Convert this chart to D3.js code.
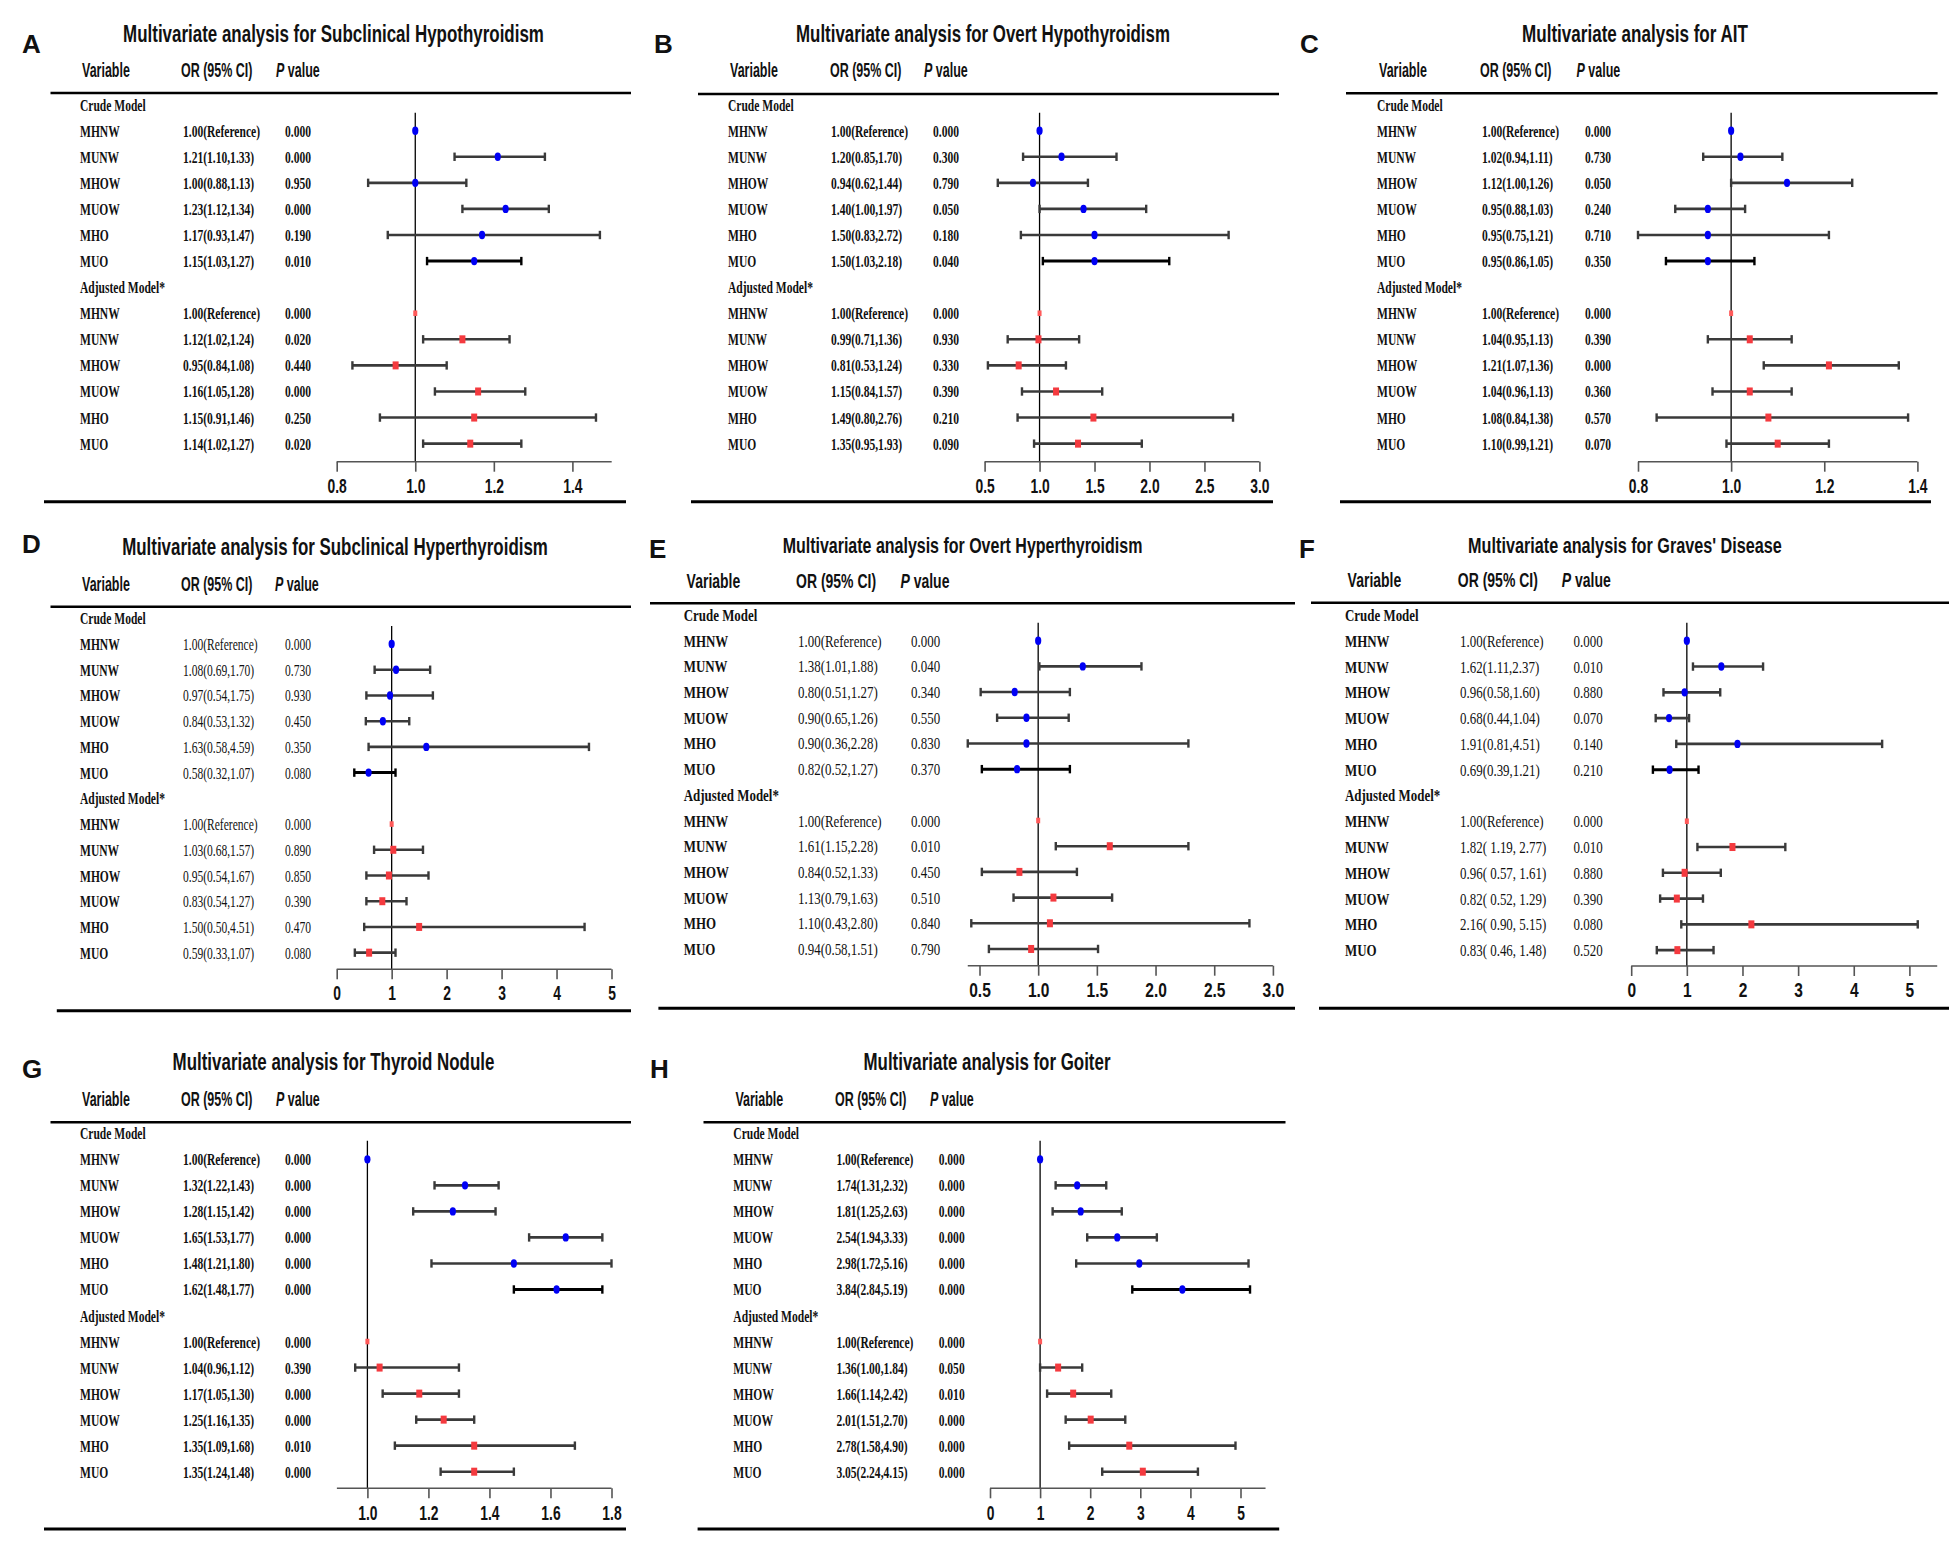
<!DOCTYPE html>
<html>
<head>
<meta charset="utf-8">
<script src="https://cdn.jsdelivr.net/npm/d3@7"></script>
<style>
  body { margin: 0; background: #fff; }
  .sans { font-family: "Liberation Sans", Arial, sans-serif; font-weight: bold; }
  .serif { font-family: "Liberation Serif", "Times New Roman", serif; }
</style>
</head>
<body>
<div id="fig"></div>
<script>
// Forest plots, 8 panels (A-H)
const width = 1949;
const height = 1545;

const vars = ["MHNW", "MUNW", "MHOW", "MUOW", "MHO", "MUO"];

// A - Subclinical Hypothyroidism
const orA_c = [1.00, 1.21, 1.00, 1.23, 1.17, 1.15], loA_c = [1, 1.10, 0.88, 1.12, 0.93, 1.03], hiA_c = [1, 1.33, 1.13, 1.34, 1.47, 1.27], pA_c = [0, 0, 0.95, 0, 0.19, 0.01];
const orA_a = [1.00, 1.12, 0.95, 1.16, 1.15, 1.14], loA_a = [1, 1.02, 0.84, 1.05, 0.91, 1.02], hiA_a = [1, 1.24, 1.08, 1.28, 1.46, 1.27], pA_a = [0, 0.02, 0.44, 0, 0.25, 0.02];
// B - Overt Hypothyroidism
const orB_c = [1.00, 1.20, 0.94, 1.40, 1.50, 1.50], loB_c = [1, 0.85, 0.62, 1.00, 0.83, 1.03], hiB_c = [1, 1.70, 1.44, 1.97, 2.72, 2.18], pB_c = [0, 0.30, 0.79, 0.05, 0.18, 0.04];
const orB_a = [1.00, 0.99, 0.81, 1.15, 1.49, 1.35], loB_a = [1, 0.71, 0.53, 0.84, 0.80, 0.95], hiB_a = [1, 1.36, 1.24, 1.57, 2.76, 1.93], pB_a = [0, 0.93, 0.33, 0.39, 0.21, 0.09];
// C - AIT
const orC_c = [1.00, 1.02, 1.12, 0.95, 0.95, 0.95], loC_c = [1, 0.94, 1.00, 0.88, 0.75, 0.86], hiC_c = [1, 1.11, 1.26, 1.03, 1.21, 1.05], pC_c = [0, 0.73, 0.05, 0.24, 0.71, 0.35];
const orC_a = [1.00, 1.04, 1.21, 1.04, 1.08, 1.10], loC_a = [1, 0.95, 1.07, 0.96, 0.84, 0.99], hiC_a = [1, 1.13, 1.36, 1.13, 1.38, 1.21], pC_a = [0, 0.39, 0, 0.36, 0.57, 0.07];
// D - Subclinical Hyperthyroidism
const orD_c = [1.00, 1.08, 0.97, 0.84, 1.63, 0.58], loD_c = [1, 0.69, 0.54, 0.53, 0.58, 0.32], hiD_c = [1, 1.70, 1.75, 1.32, 4.59, 1.07], pD_c = [0, 0.73, 0.93, 0.45, 0.35, 0.08];
const orD_a = [1.00, 1.03, 0.95, 0.83, 1.50, 0.59], loD_a = [1, 0.68, 0.54, 0.54, 0.50, 0.33], hiD_a = [1, 1.57, 1.67, 1.27, 4.51, 1.07], pD_a = [0, 0.89, 0.85, 0.39, 0.47, 0.08];
// E - Overt Hyperthyroidism
const orE_c = [1.00, 1.38, 0.80, 0.90, 0.90, 0.82], loE_c = [1, 1.01, 0.51, 0.65, 0.36, 0.52], hiE_c = [1, 1.88, 1.27, 1.26, 2.28, 1.27], pE_c = [0, 0.04, 0.34, 0.55, 0.83, 0.37];
const orE_a = [1.00, 1.61, 0.84, 1.13, 1.10, 0.94], loE_a = [1, 1.15, 0.52, 0.79, 0.43, 0.58], hiE_a = [1, 2.28, 1.33, 1.63, 2.80, 1.51], pE_a = [0, 0.01, 0.45, 0.51, 0.84, 0.79];
// F - Graves' Disease
const orF_c = [1.00, 1.62, 0.96, 0.68, 1.91, 0.69], loF_c = [1, 1.11, 0.58, 0.44, 0.81, 0.39], hiF_c = [1, 2.37, 1.60, 1.04, 4.51, 1.21], pF_c = [0, 0.01, 0.88, 0.07, 0.14, 0.21];
const orF_a = [1.00, 1.82, 0.96, 0.82, 2.16, 0.83], loF_a = [1, 1.19, 0.57, 0.52, 0.90, 0.46], hiF_a = [1, 2.77, 1.61, 1.29, 5.15, 1.48], pF_a = [0, 0.01, 0.88, 0.39, 0.08, 0.52];
// G - Thyroid Nodule
const orG_c = [1.00, 1.32, 1.28, 1.65, 1.48, 1.62], loG_c = [1, 1.22, 1.15, 1.53, 1.21, 1.48], hiG_c = [1, 1.43, 1.42, 1.77, 1.80, 1.77], pG_c = [0, 0, 0, 0, 0, 0];
const orG_a = [1.00, 1.04, 1.17, 1.25, 1.35, 1.35], loG_a = [1, 0.96, 1.05, 1.16, 1.09, 1.24], hiG_a = [1, 1.12, 1.30, 1.35, 1.68, 1.48], pG_a = [0, 0.39, 0, 0, 0.01, 0];
const hiPlotG_a = [1, 1.30, 1.30, 1.35, 1.68, 1.48]; // bar drawn in the figure for MUNW ends at 1.30
// H - Goiter
const orH_c = [1.00, 1.74, 1.81, 2.54, 2.98, 3.84], loH_c = [1, 1.31, 1.25, 1.94, 1.72, 2.84], hiH_c = [1, 2.32, 2.63, 3.33, 5.16, 5.19], pH_c = [0, 0, 0, 0, 0, 0];
const orH_a = [1.00, 1.36, 1.66, 2.01, 2.78, 3.05], loH_a = [1, 1.00, 1.14, 1.51, 1.58, 2.24], hiH_a = [1, 1.84, 2.42, 2.70, 4.90, 4.15], pH_a = [0, 0.05, 0.01, 0, 0, 0];

const ticksA = [0.8, 1.0, 1.2, 1.4], ticksB = [0.5, 1.0, 1.5, 2.0, 2.5, 3.0], ticksD = [0, 1, 2, 3, 4, 5], ticksG = [1.0, 1.2, 1.4, 1.6, 1.8];

// layout for each panel
const panels = [
  {id: "A", title: "Multivariate analysis for Subclinical Hypothyroidism", L: [22, 53], T: [333.5, 42, 421, 24],
   hy: 77, hx: [82, 181, 276], cx: [80, 183, 285], top: [50.5, 631, 93], bot: [44, 626, 501.7], y0: 104.6, step: 26.08, k: 0.66, bold: true,
   ticks: ticksA, tf: ".1f", px: [336.7, 572.4], line: [0.8, 1.5], refTop: 112.7, axisY: 461.7, labY: 493,
   c: [orA_c, loA_c, hiA_c, pA_c], a: [orA_a, loA_a, hiA_a, pA_a]},
  {id: "B", title: "Multivariate analysis for Overt Hypothyroidism", L: [654, 53], T: [983, 42, 374, 24],
   hy: 77, hx: [730, 830, 924], cx: [728, 831, 933], top: [698, 1279, 94], bot: [691, 1273, 501.7], y0: 104.6, step: 26.08, k: 0.66, bold: true,
   ticks: ticksB, tf: ".1f", px: [984.6, 1259.4], line: [0.5, 3.0], refTop: 112.7, axisY: 461.7, labY: 493,
   c: [orB_c, loB_c, hiB_c, pB_c], a: [orB_a, loB_a, hiB_a, pB_a]},
  {id: "C", title: "Multivariate analysis for AIT", L: [1300, 53], T: [1635, 42, 226, 24],
   hy: 77, hx: [1379, 1480, 1576.5], cx: [1377, 1482, 1585], top: [1346, 1937.6, 93.3], bot: [1340, 1931, 501.7], y0: 104.6, step: 26.08, k: 0.66, bold: true,
   ticks: ticksA, tf: ".1f", px: [1638, 1917.4], line: [0.8, 1.4], refTop: 112.7, axisY: 461.7, labY: 493,
   c: [orC_c, loC_c, hiC_c, pC_c], a: [orC_a, loC_a, hiC_a, pC_a]},
  {id: "D", title: "Multivariate analysis for Subclinical Hyperthyroidism", L: [22, 553], T: [335, 555, 426, 24],
   hy: 590.7, hx: [82, 181, 275], cx: [80, 183, 285], top: [50.5, 631, 606.7], bot: [56.8, 631, 1010.7], y0: 618.3, step: 25.72, k: 0.66, bold: false,
   ticks: ticksD, tf: "d", px: [336.7, 611.5], line: [0, 5], refTop: 626, axisY: 969.3, labY: 1000,
   c: [orD_c, loD_c, hiD_c, pD_c], a: [orD_a, loD_a, hiD_a, pD_a]},
  {id: "E", title: "Multivariate analysis for Overt Hyperthyroidism", L: [649, 558], T: [962.5, 553, 360, 22],
   hy: 588.3, hx: [686.6, 796, 900.4], cx: [683.7, 798, 911], top: [650, 1295, 603.3], bot: [658.4, 1295, 1008.3], y0: 615, step: 25.69, k: 0.74, bold: false,
   ticks: ticksB, tf: ".1f", px: [979.5, 1272.9], line: [0.4, 3.0], refTop: 622.7, axisY: 965.7, labY: 997.3,
   c: [orE_c, loE_c, hiE_c, pE_c], a: [orE_a, loE_a, hiE_a, pE_a]},
  {id: "F", title: "Multivariate analysis for Graves' Disease", L: [1299, 558], T: [1625, 553, 314, 22],
   hy: 586.7, hx: [1347.6, 1457.8, 1561.8], cx: [1345, 1460, 1573.6], top: [1311, 1949, 602.7], bot: [1319, 1949, 1008.3], y0: 615, step: 25.78, k: 0.74, bold: false, spaced: true,
   ticks: ticksD, tf: "d", px: [1631.2, 1909.4], line: [0, 5.5], refTop: 622.7, axisY: 966, labY: 997,
   c: [orF_c, loF_c, hiF_c, pF_c], a: [orF_a, loF_a, hiF_a, pF_a]},
  {id: "G", title: "Multivariate analysis for Thyroid Nodule", L: [22, 1078], T: [333.5, 1070, 322, 24],
   hy: 1106, hx: [82, 181, 276], cx: [80, 183, 285], top: [50.5, 631, 1122.3], bot: [44, 626, 1529], y0: 1133.3, step: 26.03, k: 0.66, bold: true,
   ticks: ticksG, tf: ".1f", px: [367.4, 611.5], line: [0.9, 1.8], refTop: 1140.7, axisY: 1488.3, labY: 1520,
   c: [orG_c, loG_c, hiG_c, pG_c], a: [orG_a, loG_a, hiG_a, pG_a], aPlot: hiPlotG_a},
  {id: "H", title: "Multivariate analysis for Goiter", L: [650, 1078], T: [987, 1070, 247, 24],
   hy: 1106, hx: [735.4, 835, 930], cx: [733.3, 836.4, 938.7], top: [703.5, 1285.5, 1122.3], bot: [697.6, 1279.2, 1529], y0: 1133.3, step: 26.03, k: 0.66, bold: true,
   ticks: ticksD, tf: "d", px: [990, 1240.5], line: [0, 5.5], refTop: 1140.7, axisY: 1488.3, labY: 1520,
   c: [orH_c, loH_c, hiH_c, pH_c], a: [orH_a, loH_a, hiH_a, pH_a]}
];

const blue = "#0000f5", red = "#f43a3f", barCol = "#3a3a3a";
const f2 = d3.format(".2f"), f3 = d3.format(".3f");
const rowSize = 17.5;

const svg = d3.select("#fig").append("svg")
  .attr("width", width).attr("height", height)
  .style("background", "#fff");

// text squeezed horizontally like the original figure
function txt(g, x, y, str, cls, k, size, anchor) {
  return g.append("text").attr("class", cls)
    .attr("transform", `translate(${x},${y}) scale(${k},1)`)
    .attr("text-anchor", anchor || "start")
    .style("font-size", size + "px")
    .attr("fill", "#111")
    .text(str);
}

function ciText(or, lo, hi, i, spaced) {
  if (i === 0) return "1.00(Reference)";
  return spaced ? `${f2(or)}( ${f2(lo)}, ${f2(hi)})` : `${f2(or)}(${f2(lo)},${f2(hi)})`;
}

panels.forEach(P => {
  const g = svg.append("g");
  const x = d3.scaleLinear().domain([P.ticks[0], P.ticks[P.ticks.length - 1]]).range(P.px);
  const rowY = i => P.y0 + i * P.step;
  const clamp = v => Math.max(P.line[0], Math.min(P.line[1], v));

  // panel letter + title (title squeezed to its width in the figure)
  g.append("text").attr("class", "sans").attr("x", P.L[0]).attr("y", P.L[1])
    .style("font-size", "26px").attr("fill", "#111").text(P.id);
  const tt = txt(g, P.T[0], P.T[1], P.title, "sans", 1, P.T[3], "middle");
  const natural = tt.node().getComputedTextLength();
  tt.attr("transform", `translate(${P.T[0]},${P.T[1]}) scale(${P.T[2] / natural},1)`);

  // column headers
  txt(g, P.hx[0], P.hy, "Variable", "sans", P.k * 0.97, 19.5);
  txt(g, P.hx[1], P.hy, "OR (95% CI)", "sans", P.k * 0.97, 19.5);
  const pv = txt(g, P.hx[2], P.hy, "", "sans", P.k * 0.97, 19.5);
  pv.append("tspan").style("font-style", "italic").text("P");
  pv.append("tspan").text(" value");

  // rules
  g.append("line").attr("x1", P.top[0]).attr("x2", P.top[1]).attr("y1", P.top[2]).attr("y2", P.top[2])
    .attr("stroke", "#000").attr("stroke-width", 2.5);
  g.append("line").attr("x1", P.bot[0]).attr("x2", P.bot[1]).attr("y1", P.bot[2]).attr("y2", P.bot[2])
    .attr("stroke", "#000").attr("stroke-width", 3);

  // reference line at OR = 1
  g.append("line").attr("x1", x(1)).attr("x2", x(1)).attr("y1", P.refTop).attr("y2", P.axisY)
    .attr("stroke", "#000").attr("stroke-width", 1.3);

  // axis
  g.append("line").attr("x1", x(P.line[0])).attr("x2", x(P.line[1])).attr("y1", P.axisY).attr("y2", P.axisY)
    .attr("stroke", "#555").attr("stroke-width", 1.6);
  const ax = g.append("g").attr("transform", `translate(0,${P.axisY})`)
    .call(d3.axisBottom(x).tickValues(P.ticks).tickSize(10).tickSizeOuter(0).tickFormat(d3.format(P.tf)));
  ax.select(".domain").remove();
  ax.selectAll(".tick line").attr("stroke", "#555").attr("stroke-width", 1.6);
  ax.selectAll(".tick text").attr("class", "sans").attr("dy", null).attr("y", P.labY - P.axisY)
    .attr("transform", `scale(${P.k},1)`).style("font-size", "21px").attr("fill", "#111");

  const weight = P.bold ? "bold" : "normal";
  [[P.c, 0, "Crude Model"], [P.a, 7, "Adjusted Model*"]].forEach(([S, off, head]) => {
    const [or, lo, hi, p] = S;
    const adj = off === 7;
    const hiPlot = adj && P.aPlot ? P.aPlot : hi;
    txt(g, P.cx[0], rowY(off) + 6, head, "serif", P.k, rowSize).style("font-weight", "bold");
    vars.forEach((v, i) => {
      const y = rowY(off + 1 + i);
      txt(g, P.cx[0], y + 6, v, "serif", P.k, rowSize).style("font-weight", "bold");
      txt(g, P.cx[1], y + 6, ciText(or[i], lo[i], hi[i], i, adj && P.spaced), "serif", P.k, rowSize).style("font-weight", weight);
      txt(g, P.cx[2], y + 6, f3(p[i]), "serif", P.k, rowSize).style("font-weight", weight);

      if (i > 0) {
        const x1 = x(clamp(lo[i])), x2 = x(clamp(hiPlot[i]));
        const last = !adj && i === 5;
        const col = last ? "#000" : barCol, sw = last ? 3 : 2.6;
        g.append("line").attr("x1", x1).attr("x2", x2).attr("y1", y).attr("y2", y)
          .attr("stroke", col).attr("stroke-width", sw);
        [x1, x2].forEach(xx => g.append("line").attr("x1", xx).attr("x2", xx)
          .attr("y1", y - 4.2).attr("y2", y + 4.2).attr("stroke", col).attr("stroke-width", 2.4));
      }
      if (!adj) {
        g.append("ellipse").attr("cx", x(or[i])).attr("cy", y).attr("rx", 3.1).attr("ry", 4.2).attr("fill", blue);
      } else if (i === 0) {
        g.append("rect").attr("x", x(or[i]) - 2).attr("y", y - 2.8).attr("width", 4).attr("height", 5.6).attr("fill", "#ff5a5a");
      } else {
        g.append("rect").attr("x", x(or[i]) - 3).attr("y", y - 4).attr("width", 6).attr("height", 8).attr("fill", red);
      }
    });
  });
});
</script>
</body>
</html>
